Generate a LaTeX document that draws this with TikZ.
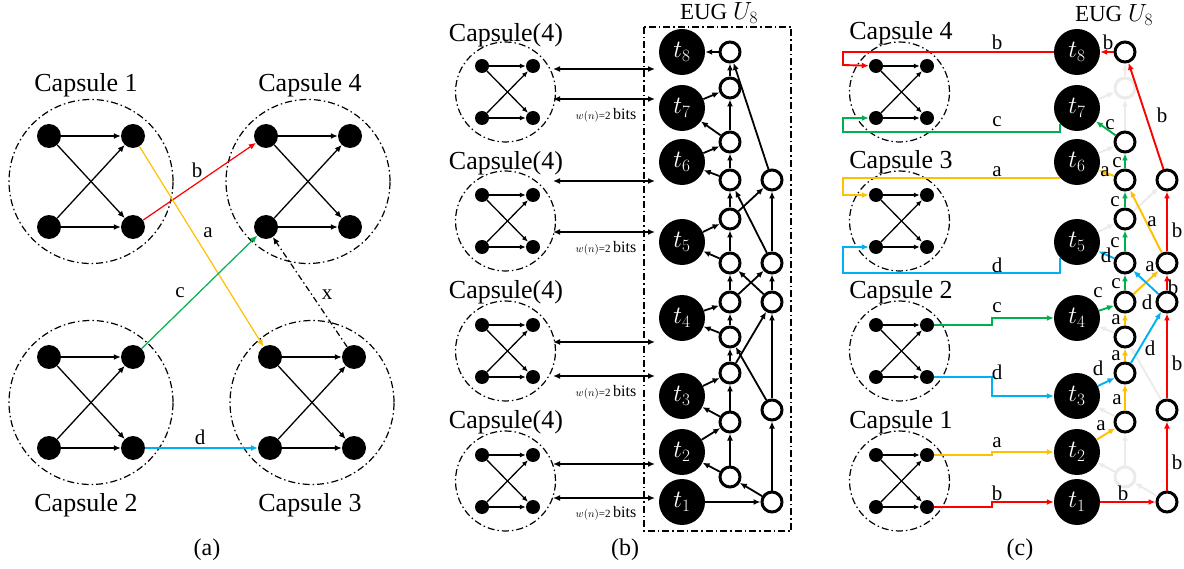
\documentclass[tikz,border=0pt]{standalone}
\usepackage{fontspec}
\setmainfont{Liberation Serif}
\usetikzlibrary{arrows.meta,calc}
\definecolor{cred}{HTML}{FF0000}
\definecolor{cgreen}{HTML}{00B050}
\definecolor{corange}{HTML}{FFC000}
\definecolor{cblue}{HTML}{00B0F0}
\definecolor{cfade}{HTML}{EBEBEB}
\tikzset{
 >={Latex[length=7pt,width=6pt]},
 capcirc/.style={line width=1.2pt, dash pattern=on 7pt off 3pt on 1.5pt off 3pt},
 bdot/.style={circle, fill=black, inner sep=0pt},
 aedge/.style={->, line width=1.3pt},
 sedge/.style={-{Latex[length=6pt,width=5pt]}, line width=1.3pt},
 wnode/.style={circle, draw=black, fill=white, line width=3pt, minimum size=20pt, inner sep=0pt},
 tnode/.style={circle, fill=black, text=white, minimum size=46pt, inner sep=0pt, font=\fontsize{27}{30}\selectfont},
 eedge/.style={->, line width=1.8pt},
 cedge/.style={->, line width=1.9pt},
 lab/.style={font=\fontsize{21}{24}\selectfont, inner sep=0pt},
 caplab/.style={font=\fontsize{26}{30}\selectfont, inner sep=0pt},
 wlab/.style={inner sep=0pt},
 capbig/.pic={
   \draw[capcirc] (0,0) circle[radius=82pt];
   \node[bdot,minimum size=24pt] (-tl) at (-42,-45.5) {};
   \node[bdot,minimum size=24pt] (-tr) at (42,-45.5) {};
   \node[bdot,minimum size=24pt] (-bl) at (-42,45.5) {};
   \node[bdot,minimum size=24pt] (-br) at (42,45.5) {};
   \draw[aedge] (-tl) -- (-tr);
   \draw[aedge] (-tl) -- (-br);
   \draw[aedge] (-bl) -- (-tr);
   \draw[aedge] (-bl) -- (-br);
 },
 capsmall/.pic={
   \draw[capcirc] (-2,0) circle[radius=50pt];
   \node[bdot,minimum size=14pt] (-tl) at (-25.5,-26) {};
   \node[bdot,minimum size=14pt] (-tr) at (25.5,-26) {};
   \node[bdot,minimum size=14pt] (-bl) at (-25.5,26) {};
   \node[bdot,minimum size=14pt] (-br) at (25.5,26) {};
   \draw[sedge] (-tl) -- (-tr);
   \draw[sedge] (-tl) -- (-br);
   \draw[sedge] (-bl) -- (-tr);
   \draw[sedge] (-bl) -- (-br);
 },
}
\begin{document}
\begin{tikzpicture}[x=1pt,y=-1pt]
\useasboundingbox (0,0) rectangle (1184,569);

% ---------------- panel (a)
\pic (a1) at (91,181.5) {capbig};
\pic (a4) at (308,181.5) {capbig};
\pic (a2) at (91,402.5) {capbig};
\pic (a3) at (312,402.5) {capbig};
\node[caplab] (la1) at (86,85) {Capsule 1};
\node[caplab] (la4) at (310,85) {Capsule 4};
\node[caplab] (la2) at (86,505) {Capsule 2};
\node[caplab] (la3) at (310,505) {Capsule 3};
\draw[->,line width=1.2pt,cred] (a1-br) -- (a4-tl);
\draw[->,line width=1.2pt,corange] (a1-tr) -- (a3-tl);
\draw[->,line width=1.2pt,cgreen] (a2-tr) -- (a4-bl);
\draw[->,line width=1.2pt,cblue] (a2-br) -- (a3-bl);
\draw[->,line width=1.2pt,dash pattern=on 6pt off 3pt on 1.5pt off 3pt] (a3-tr) -- (a4-bl);
\node[lab] (lb) at (197,170) {b};
\node[lab] (lla) at (208,233) {a};
\node[lab] (lc) at (180,293) {c};
\node[lab] (ld) at (200,437) {d};
\node[lab] (lx) at (327,295) {x};
\node[font=\fontsize{24}{28}\selectfont] (pa) at (207,550) {(a)};

% ---------------- panel (b)
\draw[capcirc] (644,27) rectangle (791,531);
\node[font=\fontsize{23}{26}\selectfont] (eugb) at (719,13) {EUG $U_8$};
\pic (b4) at (507.5,92) {capsmall};
\pic (b3) at (507.5,221) {capsmall};
\pic (b2) at (507.5,351) {capsmall};
\pic (b1) at (507.5,481) {capsmall};
\foreach \yy in {35,163,292,422}
  \node[caplab] at (506,\yy) {Capsule(4)};
\foreach \i/\ya/\yb/\yw in {1/69/99/115, 2/181/232/248, 3/342/376/392, 4/464/498/513}{
  \coordinate (ba\i) at (553,\ya);
  \coordinate (bb\i) at (655,\ya);
  \coordinate (bc\i) at (553,\yb);
  \coordinate (bd\i) at (655,\yb);
  \draw[<->,line width=1.8pt] (ba\i) -- (bb\i);
  \draw[<->,line width=1.8pt] (bc\i) -- (bd\i);
  \node[wlab] at (606,\yw) {{\fontsize{11}{13}\selectfont$w(n)$=2} {\fontsize{16}{18}\selectfont bits}};
}
\foreach \n/\yy in {8/52,7/108,6/162,5/242,4/318,3/396,2/452,1/502}
  \node[tnode] (bt\n) at (682,\yy) {$t_{\n}$};
\foreach \n/\yy in {1/52,2/88,3/142,4/180,5/219,6/263,7/302,8/337,9/373,10/422,11/477}
  \node[wnode] (bn\n) at (730,\yy) {};
\foreach \n/\yy in {1/180,2/263,3/302,4/410,5/502}
  \node[wnode] (bm\n) at (772,\yy) {};
\foreach \p/\q in {n1/t8,n2/n1,t7/n2,m1/n1,n3/n2,n3/t7,t6/n3,n4/n3,n4/t6,n5/n4,m2/n4,n5/m1,t5/n5,m2/m1,n6/n5,n6/t5,n7/n6,n7/m2,m3/n6,m3/m2,t4/n7,n8/n7,n8/t4,n9/n8,n9/m3,m4/n8,m4/m3,t3/n9,n10/n9,n10/t3,t2/n10,n11/n10,n11/t2,m5/n11,t1/m5,m5/m4}
  \draw[eedge] (b\p) -- (b\q);
\node[font=\fontsize{24}{28}\selectfont] (pb) at (625,550) {(b)};

% ---------------- panel (c)
\node[font=\fontsize{23}{26}\selectfont] (eugc) at (1114,15) {EUG $U_8$};
\pic (cc4) at (901.5,92) {capsmall};
\pic (cc3) at (901.5,221) {capsmall};
\pic (cc2) at (901.5,351) {capsmall};
\pic (cc1) at (901.5,481) {capsmall};
\node[caplab] (lc4) at (901,33) {Capsule 4};
\node[caplab] (lc3) at (901,162) {Capsule 3};
\node[caplab] (lc2) at (901,292) {Capsule 2};
\node[caplab] (lc1) at (901,422) {Capsule 1};
\foreach \n/\yy in {8/52,7/108,6/162,5/242,4/318,3/396,2/452,1/502}
  \node[tnode] (ct\n) at (1077,\yy) {$t_{\n}$};
\foreach \n/\yy in {1/52,3/142,4/180,5/219,6/263,7/302,8/337,9/373,10/422}
  \node[wnode] (cn\n) at (1125,\yy) {};
\foreach \n/\yy in {2/88,11/477}
  \node[wnode,draw=cfade] (cn\n) at (1125,\yy) {};
\foreach \n/\yy in {1/180,2/263,3/302,4/410,5/502}
  \node[wnode] (cm\n) at (1167,\yy) {};
\foreach \p/\q in {n2/n1,t7/n2,n3/n2,t6/n3,n5/m1,t5/n5,n8/t4,m4/n8,n10/t3,n11/n10,n11/t2,m5/n11}
  \draw[cedge,cfade] (c\p) -- (c\q);
\foreach \p/\q/\cc in {n1/t8/cred,m1/n1/cred,n3/t7/cgreen,n4/n3/cgreen,n4/t6/corange,n5/n4/cgreen,m2/n4/corange,m2/m1/cred,n6/n5/cgreen,n6/t5/cblue,n7/n6/cgreen,n7/m2/corange,m3/n6/cblue,m3/m2/cred,t4/n7/cgreen,n8/n7/corange,n9/n8/corange,n9/m3/cblue,m4/m3/cred,t3/n9/cblue,n10/n9/corange,t2/n10/corange,t1/m5/cred,m5/m4/cred}
  \draw[cedge,\cc] (c\p) -- (c\q);
% capsule connectors
\coordinate (t6out) at ($(ct6.center)+(-17,16)$);
\draw[cedge,cred] (cc1-br.east) -- ++(58,0) |- (ct1);
\draw[cedge,corange] (cc1-tr.east) -- ++(58,0) |- (ct2);
\draw[cedge,cgreen] (cc2-tr.east) -- ++(58,0) |- (ct4);
\draw[cedge,cblue] (cc2-br.east) -- ++(58,0) |- (ct3);
\draw[cedge,cred] (ct8.west) -| (843,65) -- (cc4-tl);
\draw[cedge,cgreen] (ct7.222) |- (843,132) |- (cc4-bl);
\draw[cedge,corange] (t6out) -| (843,195) -- (cc3-tl);
\draw[cedge,cblue] (ct5.222) |- (843,273) |- (cc3-bl);
% labels (c)
\foreach \xx/\yy in {997/42,997/493,1108/42,1162/115,1177/230,1173/287,1177/363,1177/462,1123/493}
  \node[lab] at (\xx,\yy) {b};
\foreach \xx/\yy in {997/122,997/308,1110/125,1117/163,1115/202,1115/243,1116/284,1098/293}
  \node[lab] at (\xx,\yy) {c};
\foreach \xx/\yy in {997/172,997/443,1105/172,1152/222,1150/267,1116/320,1116/356,1117/400,1101/426}
  \node[lab] at (\xx,\yy) {a};
\foreach \xx/\yy in {997/265,997/372,1106/255,1147/302,1150/348,1098/368}
  \node[lab] at (\xx,\yy) {d};
\node[font=\fontsize{24}{28}\selectfont] (pc) at (1020,550) {(c)};
\end{tikzpicture}
\end{document}
